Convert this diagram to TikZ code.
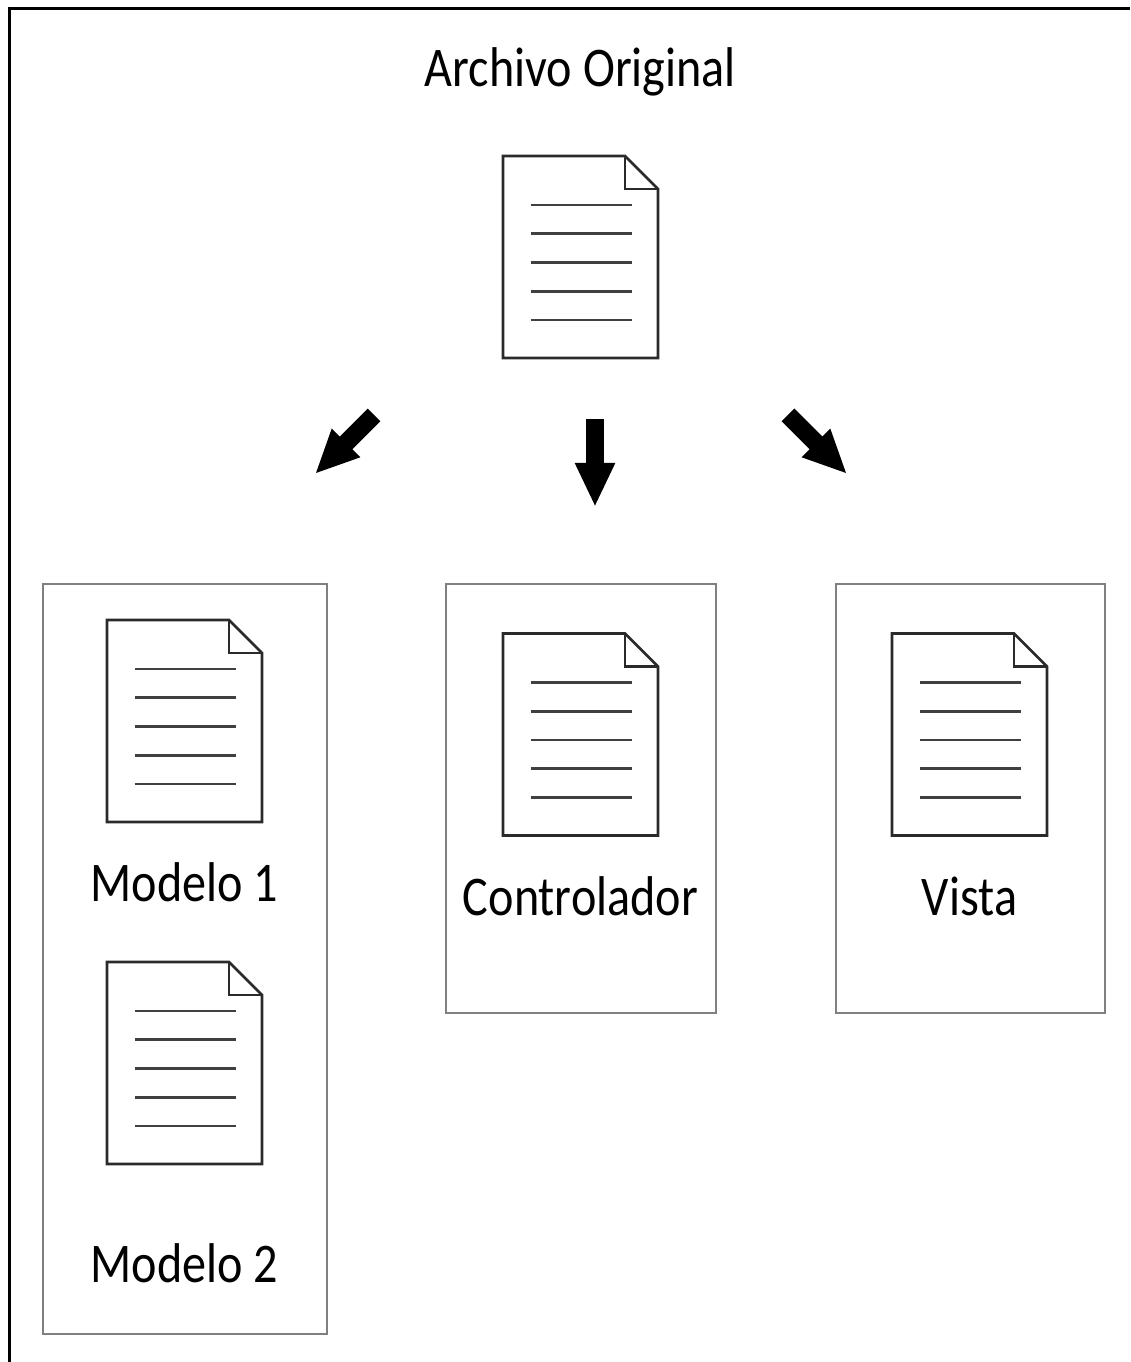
\documentclass[tikz,border=0pt]{standalone}
\usepackage{fontspec}
\setmainfont[FakeStretch=0.86]{Carlito}
\usetikzlibrary{arrows.meta,positioning}

\begin{document}
\begin{tikzpicture}[x=1pt,y=1pt,node distance=181pt,on grid]
       \tikzstyle{docline}=[line width=2.6pt,line join=miter,draw={rgb:black,5;white,1}]
       \tikzstyle{docrule}=[line width=2.8pt,draw={rgb:black,3;white,1}]
       \tikzstyle{doc}=[minimum width=162pt,minimum height=208pt,inner sep=0pt,
         path picture={
           \begin{scope}[shift={(path picture bounding box.center)}]
             \draw[docline] (-77.5,-101) -- (-77.5,101) -- (44.5,101) -- (77.5,68) -- (77.5,-101) -- cycle;
             \draw[docline] (44.5,101) -- (44.5,68) -- (77.5,68);
             \foreach \k in {0,...,4}
               \draw[docrule] (-50,52-28.75*\k) -- (51,52-28.75*\k);
           \end{scope}}]
       \tikzstyle{grp}=[draw={rgb:black,1;white,1},line width=2pt,inner sep=0pt]
       \tikzstyle{lbl}=[anchor=base,inner sep=0pt,font=\fontsize{56}{60}\selectfont]
       \tikzstyle{bigarrow}=[line width=18pt,-{Triangle[width=37pt,length=44pt]}]

       \useasboundingbox (0,0) rectangle (1130,1362);
       \draw[line width=3pt] (9,0) -- (9,1353) -- (1130,1353);

       % groups
       \node[grp,minimum width=284pt,minimum height=750pt] (g_mod) at (185,403) {};
       \node[grp,minimum width=270pt,minimum height=429pt] (g_ctrl) at (581,563.5) {};
       \node[grp,minimum width=269pt,minimum height=429pt] (g_vista) at (970.5,563.5) {};

       % files
       \node[doc] (orig)  at (580.5,1105) {};
       \node[doc] (mod_1) at (184.5,641) {};
       \node[doc] (mod_2) at (184.5,299) {};
       \node[doc] (ctrl)  at (580.5,627.5) {};
       \node[doc] (vista) at (969.5,627.5) {};

       \node[lbl,above=170pt of orig.center,anchor=base] (t_orig) {Archivo Original};
       \node[lbl,below=of mod_1.center,anchor=base] (t_mod_1) {Modelo 1};
       \node[lbl,below=220pt of mod_2.center,anchor=base] (t_mod_2) {Modelo 2};
       \node[lbl,below=181.5pt of ctrl.center,anchor=base] (t_ctrl) {Controlador};
       \node[lbl,below=181.5pt of vista.center,anchor=base] (t_vista) {Vista};

       % split arrows
       \coordinate (a_l) at (374,947);  \coordinate (b_l) at (315,888);
       \coordinate (a_c) at (595,943);  \coordinate (b_c) at (595,855);
       \coordinate (a_r) at (788,947);  \coordinate (b_r) at (847,888);
       \draw[bigarrow] (a_l) -- (b_l);
       \draw[bigarrow] (a_c) -- (b_c);
       \draw[bigarrow] (a_r) -- (b_r);
     \end{tikzpicture}
\end{document}
